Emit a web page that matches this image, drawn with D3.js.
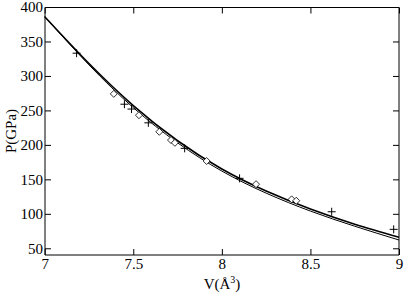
<!DOCTYPE html>
<meta charset="utf-8">
<style>
    body { margin: 0; background: #fff; }
    .frame line { stroke: #000; stroke-width: 1px; }
    .fit { fill: none; stroke: #000; }
    .plus line { stroke: #000; stroke-width: 1px; }
    .diamond { fill: #fff; stroke: #000; stroke-width: 0.8px; }
</style>
<svg width="404" height="293"></svg>
<script src="https://d3js.org/d3.v7.min.js"></script>
<script>
    // fitted curves
    var fitV  = [7.0, 7.25, 7.5, 7.75, 8.0, 8.25, 8.5, 8.75, 9.0];
    var fitP1 = [386, 318, 257, 206, 165, 133, 107, 85, 66];
    var fitP2 = [386, 316, 254, 203, 162, 130, 104, 82, 62];

    // "+" points
    var plusV = [7.18, 7.45, 7.49, 7.585, 7.79, 8.10, 8.62, 8.97];
    var plusP = [333, 259, 252, 232, 195, 151.5, 103, 77.5];

    // diamond points
    var diaV = [7.39, 7.532, 7.647, 7.713, 7.735, 7.914, 8.193, 8.394, 8.42];
    var diaP = [274, 243, 219, 207, 203, 176.6, 143, 121, 119];

    var xTicks = [7, 7.5, 8, 8.5, 9];
    var yTicks = [50, 100, 150, 200, 250, 300, 350, 400];

    var serif = "'Liberation Serif', 'DejaVu Serif', serif";

    var svg = d3.select("svg");

    var x = d3.scaleLinear().domain([7, 9]).range([44.7, 399]);
    var y = d3.scaleLinear().domain([41, 400]).range([254.5, 7]);

    var plot = svg.append("g");

    // curves
    var line = d3.line()
        .x(function (d) { return x(d[0]); })
        .y(function (d) { return y(d[1]); })
        .curve(d3.curveNatural);

    plot.append("path")
        .attr("class", "fit")
        .attr("stroke-width", 1.6)
        .attr("d", line(d3.zip(fitV, fitP1)));

    plot.append("path")
        .attr("class", "fit")
        .attr("stroke-width", 1)
        .attr("d", line(d3.zip(fitV, fitP2)));

    // diamonds
    plot.selectAll(".diamond")
        .data(d3.zip(diaV, diaP))
        .enter().append("path")
        .attr("class", "diamond")
        .attr("d", "M0,-3.5L3.5,0L0,3.5L-3.5,0Z")
        .attr("transform", function (d) {
            return "translate(" + x(d[0]) + "," + y(d[1]) + ")";
        });

    // pluses
    var plus = plot.selectAll(".plus")
        .data(d3.zip(plusV, plusP))
        .enter().append("g")
        .attr("class", "plus")
        .attr("transform", function (d) {
            return "translate(" + x(d[0]) + "," + y(d[1]) + ")";
        });
    plus.append("line").attr("x1", -4).attr("x2", 4).attr("y1", 0).attr("y2", 0);
    plus.append("line").attr("x1", 0).attr("x2", 0).attr("y1", -4).attr("y2", 4);

    // frame
    var x0 = 45, x1 = 399, y0 = 7.5, y1 = 255;
    var frame = svg.append("g").attr("class", "frame");
    frame.append("line").attr("x1", x0).attr("x2", x1).attr("y1", y0).attr("y2", y0);
    frame.append("line").attr("x1", x0).attr("x2", x1).attr("y1", y1).attr("y2", y1);
    frame.append("line").attr("x1", x0).attr("x2", x0).attr("y1", y0).attr("y2", y1);
    frame.append("line").attr("x1", x1).attr("x2", x1).attr("y1", y0).attr("y2", y1);

    // ticks on all four sides, pointing in
    var xAxisB = d3.axisBottom(x).tickValues(xTicks).tickSize(-6).tickPadding(3)
        .tickFormat(d3.format("~g"));
    var xAxisT = d3.axisTop(x).tickValues(xTicks).tickSize(-6).tickFormat("");
    var yAxisL = d3.axisLeft(y).tickValues(yTicks).tickSize(-6).tickPadding(2);
    var yAxisR = d3.axisRight(y).tickValues(yTicks).tickSize(-6).tickFormat("");

    var gB = svg.append("g").attr("transform", "translate(0," + y1 + ")").call(xAxisB);
    var gT = svg.append("g").attr("transform", "translate(0," + y0 + ")").call(xAxisT);
    var gL = svg.append("g").attr("transform", "translate(" + x0 + ",0)").call(yAxisL);
    var gR = svg.append("g").attr("transform", "translate(" + x1 + ",0)").call(yAxisR);

    [gB, gT, gL, gR].forEach(function (g) {
        g.attr("font-family", serif).attr("font-size", 15);
        g.select(".domain").remove();
        g.selectAll(".tick line").attr("stroke", "#000");
        g.selectAll("text").attr("fill", "#000");
    });
    gB.selectAll("text").attr("dy", "0.75em");

    // axis titles
    var xl = svg.append("text")
        .attr("x", 222)
        .attr("y", 289)
        .attr("font-family", serif)
        .attr("font-size", 15)
        .attr("text-anchor", "middle");
    xl.append("tspan").text("V(Å");
    xl.append("tspan").attr("dy", -6).attr("font-size", 10).text("3");
    xl.append("tspan").attr("dy", 6).text(")");

    svg.append("text")
        .attr("transform", "translate(16,131) rotate(-90)")
        .attr("font-family", serif)
        .attr("font-size", 15)
        .attr("text-anchor", "middle")
        .text("P(GPa)");
</script>
